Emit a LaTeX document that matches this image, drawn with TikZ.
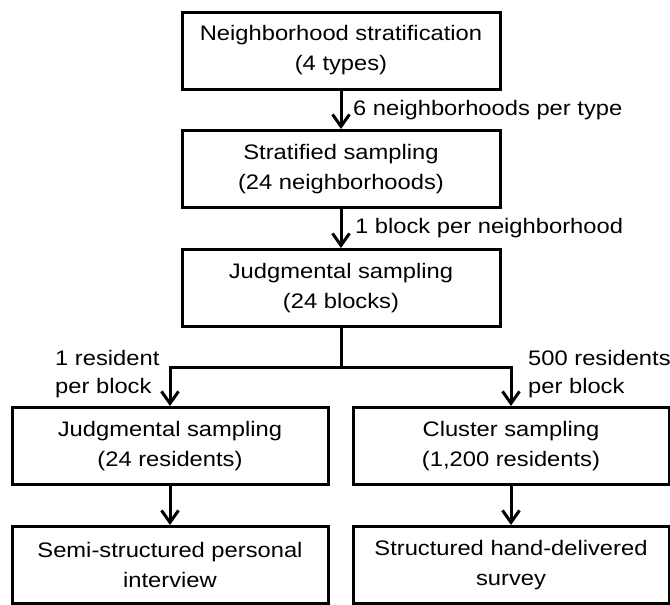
\documentclass[tikz,border=0pt]{standalone}
\usepackage{fontspec}
\setmainfont[FakeStretch=1.13]{Liberation Sans}
\usetikzlibrary{arrows.meta}
\begin{document}
\begin{tikzpicture}[x=1pt,y=-1pt,
  box/.style={draw, line width=3pt, minimum height=77pt, inner sep=0pt, align=center,
    font=\fontsize{21}{30}\selectfont},
  lbl/.style={align=left, inner sep=0pt, font=\fontsize{21}{28}\selectfont},
  arr/.style={line width=3pt, -{Straight Barb[length=12pt,width=17pt]}},
  ln/.style={line width=3pt}]
\useasboundingbox (0,0) rectangle (670,605);

\node[box, minimum width=318pt] (b1) at (341,50.5) {Neighborhood stratification\\(4 types)};
\node[box, minimum width=318pt] (b2) at (341,169) {Stratified sampling\\(24 neighborhoods)};
\node[box, minimum width=318pt] (b3) at (341,288) {Judgmental sampling\\(24 blocks)};
\node[box, minimum width=316pt] (b4) at (170,446) {Judgmental sampling\\(24 residents)};
\node[box, minimum width=316pt] (b5) at (511,446) {Cluster sampling\\(1,200 residents)};
\node[box, minimum width=316pt] (b6) at (170,565) {Semi-structured personal\\interview};
\node[box, minimum width=316pt] (b7) at (511,565) {Structured hand-delivered\\survey};

\coordinate (sp) at (341,367);

\draw[arr] (b1) -- (b2);
\draw[arr] (b2) -- (b3);
\draw[ln] (b3.south) -- (sp);
\draw[arr] (sp) -| (b4.north);
\draw[arr] (sp) -| (b5.north);
\draw[arr] (b4) -- (b6);
\draw[arr] (b5) -- (b7);

\node[lbl, anchor=west] (l1) at (353,110) {6 neighborhoods per type};
\node[lbl, anchor=west] (l2) at (355,228) {1 block per neighborhood};
\node[lbl, anchor=west] (l3) at (55,374) {1 resident\\per block};
\node[lbl, anchor=west] (l4) at (528,374) {500 residents\\per block};
\end{tikzpicture}
\end{document}
